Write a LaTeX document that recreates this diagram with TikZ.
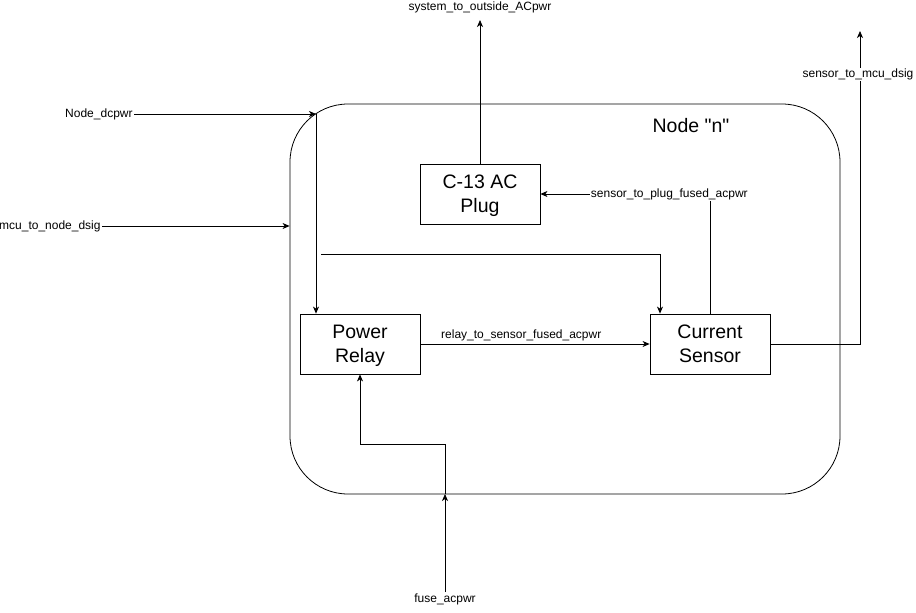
\documentclass[tikz,border=0pt]{standalone}
\usepackage{fontspec}
\setmainfont{Liberation Sans}
\usetikzlibrary{arrows.meta}
\begin{document}
\begin{tikzpicture}[x=1pt, y=-1pt, line width=0.8pt,
    >={Stealth[length=7pt, width=6pt, inset=2pt]},
    block/.style={draw, minimum width=120pt, minimum height=60pt, align=center,
        text depth=0pt, font=\fontsize{19.5}{24}\selectfont},
    sig/.style={inner sep=1pt, fill=white, font=\fontsize{12}{14.4}\selectfont}]
    \useasboundingbox (0,0) rectangle (916,613);
    \node[draw, rounded corners=58pt, minimum width=550pt, minimum height=390pt] (frame) at (565,299) {};
    \node[font=\fontsize{19.5}{24}\selectfont] (title) at (691,126) {Node \textquotedbl n\textquotedbl};
    \node[block] (plug) at (480,194) {C-13 AC\\Plug};
    \node[block] (relay) at (360,344) {Power\\Relay};
    \node[block] (sensor) at (710,344) {Current\\Sensor};
    \node[sig, anchor=east] (dcpwr) at (134,114) {Node\_dcpwr};
    \node[sig, anchor=east] (mcuin) at (102,226) {mcu\_to\_node\_dsig};
    \node[sig] (outlabel) at (480,7) {system\_to\_outside\_ACpwr};
    \node[sig] (fuse) at (445,599) {fuse\_acpwr};
    \coordinate (dcjoin) at (316,114);
    \coordinate (sigtap) at (321,254);
    \coordinate (acout) at (480,20);
    \coordinate (mcuout) at (860,31);
    \coordinate (fusein) at (445,494);
    \draw[->] (dcpwr.east) -- (dcjoin);
    \draw[->] (dcjoin) -- (dcjoin |- relay.north);
    \draw[->] (mcuin.east) -- (mcuin.east -| frame.west);
    \draw[->] (plug.north) -- (acout);
    \draw[->] (sigtap) -| ([xshift=-50pt]sensor.north);
    \draw[->] (relay.east) -- (sensor.west)
        node[sig, fill=none, pos=0.44, above=2pt] {relay\_to\_sensor\_fused\_acpwr};
    \draw[->] (sensor.north) |- (plug.east)
        node[sig, pos=0.62] {sensor\_to\_plug\_fused\_acpwr};
    \draw[->] (sensor.east) -| (mcuout)
        node[sig, pos=0.93, xshift=-2pt] {sensor\_to\_mcu\_dsig};
    \draw[->] (fuse.north) -- (fusein);
    \draw[->] (fusein) -- ++(0,-50) -| (relay.south);
\end{tikzpicture}
\end{document}
